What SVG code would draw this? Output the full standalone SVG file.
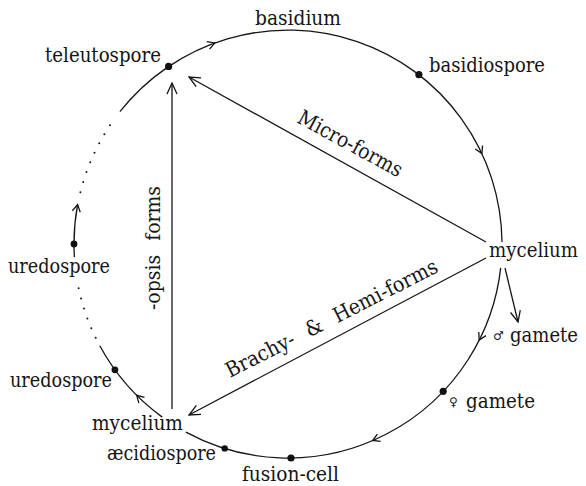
<svg xmlns="http://www.w3.org/2000/svg" xmlns:xlink="http://www.w3.org/1999/xlink" width="586" height="486" viewBox="0 0 586 486">
<style>
.t{font-family:"DejaVu Serif","Liberation Serif",serif;font-size:21px;fill:#151515}
.e{font-size:19.5px}
.sym{font-family:"DejaVu Serif","DejaVu Sans",sans-serif;font-size:12px;fill:#151515}
.ln{fill:none;stroke:#151515;stroke-width:1.3}
.dots{fill:none;stroke:#151515;stroke-width:2;stroke-linecap:round;stroke-dasharray:0 10.5}
.dot{fill:#111}
</style>
<defs>
<marker id="ah" viewBox="-13 -7 14 14" refX="0" refY="0" markerWidth="14" markerHeight="14" markerUnits="userSpaceOnUse" orient="auto">
<path d="M-11,-5 L0,0 L-11,5" fill="none" stroke="#151515" stroke-width="1.3"/>
</marker>
<path id="chev" d="M-7,-4 L0,0 L-7,4" fill="none" stroke="#151515" stroke-width="1.3"/>
</defs>
<rect width="586" height="486" fill="#fff"/>
<g id="connectors">
<path class="ln" d="M119.9,111.7 A214,214 0 0 1 502.0,242.1"/>
<path class="ln" d="M500.7,267.9 A214,214 0 0 1 185.9,432.1"/>
<path class="ln" d="M162.2,417.1 A214,214 0 0 1 99.8,345.8"/>
<path class="ln" d="M74.4,257.1 A214,214 0 0 1 77.6,204.6"/>
<path class="dots" d="M95.7,337.8 A214,214 0 0 1 77.9,284.8"/>
<path class="dots" d="M80.4,192.2 A214,214 0 0 1 116.0,116.7"/>
<use xlink:href="#chev" transform="translate(214.8,42.9) rotate(340)"/>
<use xlink:href="#chev" transform="translate(481.9,153.6) rotate(65)"/>
<use xlink:href="#chev" transform="translate(479.2,340.1) rotate(116.7)"/>
<use xlink:href="#chev" transform="translate(372.6,440.5) rotate(156.7)"/>
<use xlink:href="#chev" transform="translate(136.7,395.3) rotate(225)"/>
<use xlink:href="#chev" transform="translate(77.6,204.6) rotate(280.6)"/>
<path class="ln" d="M486,242 L189,77" marker-end="url(#ah)"/>
<path class="ln" d="M172,409 L172,83" marker-end="url(#ah)"/>
<path class="ln" d="M486,258 L189,415" marker-end="url(#ah)"/>
<path class="ln" d="M505,268 L518,322" marker-end="url(#ah)"/>
<text class="t" transform="translate(296,122) rotate(28.6)" textLength="116" lengthAdjust="spacingAndGlyphs">Micro-forms</text>
<text class="t" transform="translate(160,310) rotate(-90)" word-spacing="9" textLength="124" lengthAdjust="spacingAndGlyphs">-opsis forms</text>
<text class="t" transform="translate(230,378) rotate(-27)" word-spacing="9" textLength="235" lengthAdjust="spacingAndGlyphs">Brachy- &amp; Hemi-forms</text>
</g>
<g id="basidium"><text class="t" x="255" y="25" textLength="86" lengthAdjust="spacingAndGlyphs">basidium</text></g>
<g id="teleutospore"><circle class="dot" cx="168.6" cy="66.4" r="3.6"/><text class="t" x="45" y="62" textLength="116" lengthAdjust="spacingAndGlyphs">teleutospore</text></g>
<g id="basidiospore"><circle class="dot" cx="418.9" cy="74.7" r="3.6"/><text class="t" x="429" y="72" textLength="116" lengthAdjust="spacingAndGlyphs">basidiospore</text></g>
<g id="mycelium-right"><text class="t e" x="489" y="257" textLength="89" lengthAdjust="spacingAndGlyphs">mycelium</text></g>
<g id="male-gamete"><text class="sym" x="493" y="340">♂</text><text class="t e" x="510" y="342" textLength="68" lengthAdjust="spacingAndGlyphs">gamete</text></g>
<g id="female-gamete"><circle class="dot" cx="443.2" cy="391.3" r="3.6"/><text class="sym" x="449" y="406">♀</text><text class="t" x="466" y="408" textLength="69" lengthAdjust="spacingAndGlyphs">gamete</text></g>
<g id="fusion-cell"><circle class="dot" cx="291" cy="458" r="3.6"/><text class="t" x="242" y="481" textLength="97" lengthAdjust="spacingAndGlyphs">fusion-cell</text></g>
<g id="aecidiospore"><circle class="dot" cx="224.7" cy="448.4" r="3.2"/><text class="t" x="107" y="460" textLength="109" lengthAdjust="spacingAndGlyphs">æcidiospore</text></g>
<g id="mycelium-left"><text class="t" x="92" y="430" textLength="91" lengthAdjust="spacingAndGlyphs">mycelium</text></g>
<g id="uredospore-lower"><circle class="dot" cx="114.9" cy="369.8" r="3.4"/><text class="t" x="10" y="387" textLength="102" lengthAdjust="spacingAndGlyphs">uredospore</text></g>
<g id="uredospore-upper"><circle class="dot" cx="74" cy="244" r="3.4"/><text class="t" x="8" y="273" textLength="102" lengthAdjust="spacingAndGlyphs">uredospore</text></g>
</svg>
